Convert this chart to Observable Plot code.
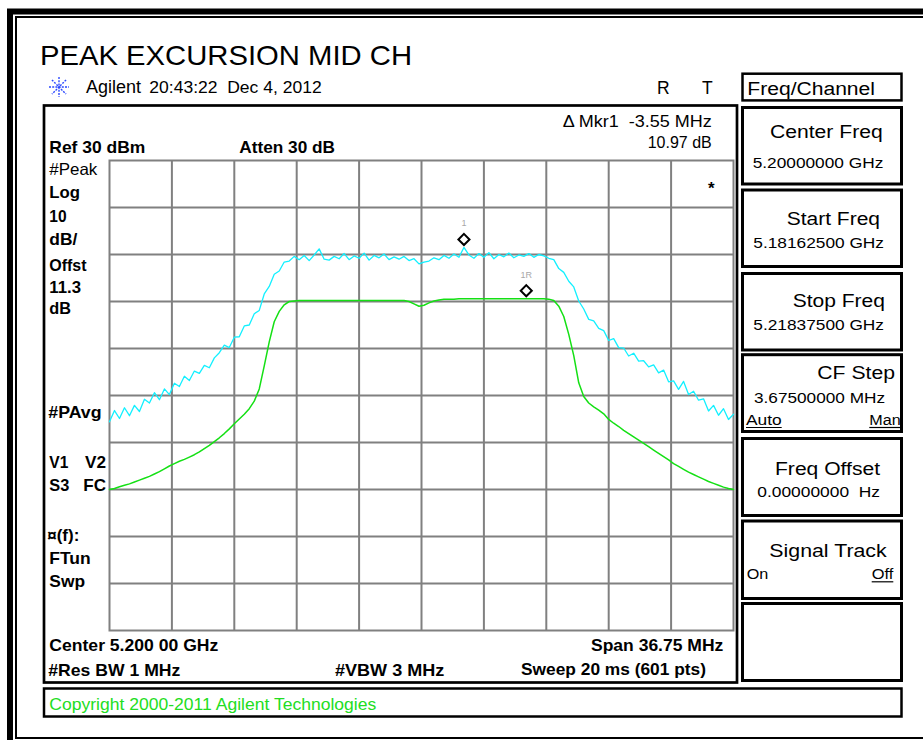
<!DOCTYPE html>
<html><head><meta charset="utf-8">
<script src="https://cdn.jsdelivr.net/npm/d3@7"></script>
<script src="https://cdn.jsdelivr.net/npm/@observablehq/plot@0.6"></script>
<style>
html,body{margin:0;padding:0;background:#fff;}
#wrap{position:relative;width:923px;height:740px;overflow:hidden;background:#fff;}
#wrap svg{position:absolute;left:0;top:0;}
</style></head><body><div id="wrap"></div>
<script>
// ---- instrument settings (frequency as offset in MHz from center 5.200 GHz) ----
const startMHz = -18.375, stopMHz = 18.375;
const refLevel = 30, dbPerDiv = 10, divisions = 10;
const xGrid = [-14.7, -11.025, -7.35, -3.675, 0, 3.675, 7.35, 11.025, 14.7];
const yGrid = [20, 10, 0, -10, -20, -30, -40, -50, -60];

// ---- trace 1: #Peak (cyan), dBm, evenly swept points ----
const peakTrace = [
-25.6,-23.2,-24.9,-22.6,-24.3,-22.1,-23.4,-20.8,-21.6,-19.4,
-20.9,-18.6,-19.8,-17.4,-18.1,-15.9,-16.8,-14.8,-15.3,-13.6,
-14.1,-12.0,-10.9,-9.3,-9.8,-7.6,-7.5,-5.2,-5.0,-2.6,
-1.9,1.6,3.2,5.8,6.5,8.4,8.6,9.6,8.9,9.8,
8.7,9.9,11.2,9.0,8.8,9.6,9.1,10.2,8.9,9.7,
9.2,10.3,8.8,9.8,9.3,10.1,8.9,9.5,9.0,9.6,
8.7,9.1,8.0,8.4,8.6,9.3,8.9,9.8,9.2,10.1,
9.4,11.5,9.9,9.2,10.2,9.4,10.4,9.1,10.0,9.5,
10.3,9.3,9.9,9.6,10.2,9.4,10.0,9.7,9.2,8.9,
7.0,6.2,4.3,3.1,0.1,-1.6,-3.8,-4.1,-5.7,-6.2,
-8.3,-7.9,-9.8,-9.9,-11.6,-11.0,-12.7,-12.6,-13.9,-13.5,
-15.2,-14.6,-17.1,-16.9,-18.7,-17.0,-19.8,-19.1,-21.0,-20.7,
-23.3,-22.1,-24.2,-22.8,-25.1,-24.0
];

// ---- trace 2: #PAvg (green), dBm ----
const avgTrace = [
-40.0,-39.8,-39.4,-39.1,-38.8,-38.4,-38.0,-37.6,-37.2,-36.7,
-36.2,-35.6,-35.0,-34.5,-34.0,-33.6,-33.1,-32.6,-32.0,-31.3,
-30.6,-29.8,-29.0,-28.1,-27.1,-26.0,-25.0,-24.0,-22.8,-21.2,
-18.6,-13.7,-8.6,-4.3,-2.1,-0.7,0.0,0.1,0.2,0.2,
0.2,0.2,0.2,0.2,0.2,0.2,0.2,0.2,0.2,0.2,
0.2,0.2,0.2,0.2,0.2,0.2,0.2,0.2,0.2,0.2,
0.0,-0.5,-1.0,-0.8,-0.3,0.1,0.3,0.5,0.5,0.5,
0.6,0.6,0.6,0.6,0.6,0.6,0.6,0.6,0.6,0.6,
0.6,0.6,0.6,0.6,0.6,0.6,0.6,0.6,0.5,0.2,
-1.0,-3.2,-7.0,-11.5,-17.3,-20.2,-21.6,-22.4,-23.1,-23.9,
-25.1,-25.9,-26.6,-27.4,-28.1,-28.8,-29.5,-30.2,-30.9,-31.6,
-32.3,-33.0,-33.7,-34.5,-35.1,-35.7,-36.3,-36.8,-37.3,-37.8,
-38.3,-38.7,-39.1,-39.5,-39.8,-40.0
];

// ---- markers ----
const markerLabels = ["1", "1R"];
const markerFreqs = [2.5, 6.17];
const markerLevels = [11.5, 0.6];

// ---- build tables ----
const toRows = t => t.map((v, i) => ({f: startMHz + i * (stopMHz - startMHz) / (t.length - 1), v}));
const markers = markerLabels.map((label, i) => ({label, f: markerFreqs[i], v: markerLevels[i]}));

const chart = Plot.plot({
  width: 923, height: 740,
  marginLeft: 109, marginRight: 190, marginTop: 160, marginBottom: 110,
  x: {domain: [startMHz, stopMHz], axis: null},
  y: {domain: [refLevel - dbPerDiv * divisions, refLevel], axis: null},
  style: {background: "white", fontFamily: "'Liberation Sans', Arial, sans-serif"},
  marks: [
    Plot.ruleX(xGrid, {stroke: "#808080", strokeWidth: 2, strokeOpacity: 1}),
    Plot.ruleY(yGrid, {stroke: "#808080", strokeWidth: 2, strokeOpacity: 1}),
    Plot.frame({stroke: "#808080", strokeWidth: 2}),
    Plot.line(toRows(avgTrace), {x: "f", y: "v", stroke: "#14e014", strokeWidth: 1.5}),
    Plot.line(toRows(peakTrace), {x: "f", y: "v", stroke: "#12f0ff", strokeWidth: 1.3}),
    Plot.dot(markers, {x: "f", y: "v", dy: -8, r: 5, symbol: d3.symbolDiamond2 || "diamond",
      stroke: "#000", strokeWidth: 2, fill: "none"}),
    Plot.text(markers, {x: "f", y: "v", text: "label", dy: -24, fill: "#a8a8a8", fontSize: 9})
  ]
});
const wrap = document.getElementById("wrap");
wrap.appendChild(chart);

// ---- instrument screen decoration (boxes and annotation texts) ----
const F = "'Liberation Sans', Arial, sans-serif";
const ov = d3.create("svg").attr("width", 923).attr("height", 740)
  .attr("font-family", F).style("pointer-events", "none");

function box(x, y, w, h, sw) {
  ov.append("rect").attr("x", x).attr("y", y).attr("width", w).attr("height", h)
    .attr("fill", "none").attr("stroke", "#000").attr("stroke-width", sw);
}
// outer frame
box(10, 11.5, 1000, 1000, 6);
box(16, 17, 1000, 721, 2);
// main panel and copyright box
box(44, 105.5, 693, 577, 2.7);
box(44, 688.5, 857.5, 28, 2.5);
// soft keys
box(742.5, 73.7, 159, 26.7, 2.5);
[[107.5,184],[190,266.5],[273.5,350],[354.7,431.5],[438.5,515.5],[521,598.5],[603.5,680.5]]
  .forEach(([a,b]) => box(742.5, a, 159, b - a, 3));

// Agilent logo star
const star = ov.append("g").attr("transform", "translate(59,87)")
  .attr("stroke", "#2a48ff").attr("stroke-width", 1.4).attr("stroke-dasharray", "2,1.2");
[0, 45, 90, 135].forEach(a => star.append("line").attr("x1", -10).attr("x2", 10)
  .attr("transform", `rotate(${a})`));

const texts = [
  ["PEAK EXCURSION MID CH", 40, 65, 28, 400, 372],
  ["Agilent", 86, 93.3, 17.5, 400, 55],
  ["20:43:22  Dec 4, 2012", 149.3, 93.3, 17, 400, 172.4],
  ["R", 657, 94.3, 17.5, 400, null],
  ["T", 702, 94.3, 17.5, 400, null],
  ["Freq/Channel", 747.3, 95, 18, 400, 127.7],
  ["\u0394 Mkr1  -3.55 MHz", 562.7, 126.7, 16, 400, 149],
  ["10.97 dB", 647.7, 148.3, 16, 400, 64],
  ["Ref 30 dBm", 49.3, 153, 17, 700, 96],
  ["Atten 30 dB", 239.3, 153, 17, 700, 95.7],
  ["#Peak", 49.3, 175, 16.5, 400, 48],
  ["Log", 49.3, 197.5, 17, 700, 30.7],
  ["10", 49.3, 221.7, 17, 700, 17.3],
  ["dB/", 49.3, 245, 17, 700, 28],
  ["Offst", 49.3, 270.7, 17, 700, 37.3],
  ["11.3", 49.3, 292.7, 17, 700, 31.7],
  ["dB", 49.3, 314, 17, 700, 21.7],
  ["#PAvg", 48.3, 417.5, 17, 700, 53.3],
  ["V1", 49.3, 467.7, 17, 700, 19],
  ["V2", 85, 467.7, 17, 700, 21],
  ["S3", 49.3, 490.7, 17, 700, 20],
  ["FC", 83.3, 490.7, 17, 700, 22.7],
  ["\u00a4(f):", 47.3, 541, 17, 700, 32],
  ["FTun", 49.3, 564.3, 17, 700, 41.4],
  ["Swp", 49.3, 586.7, 17, 700, 35.7],
  ["Center 5.200 00 GHz", 49.3, 650.7, 17, 700, 169],
  ["#Res BW 1 MHz", 48.3, 675.7, 17, 700, 132],
  ["#VBW 3 MHz", 335, 675.7, 17, 700, 109.3],
  ["Span 36.75 MHz", 591, 651, 17, 700, 132.3],
  ["Sweep 20 ms (601 pts)", 521, 675, 17, 700, 185],
  ["*", 708, 194, 17, 700, null],
  ["Center Freq", 770, 138.3, 17.5, 400, 112.7],
  ["5.20000000 GHz", 752.7, 167.7, 15.5, 400, 130.6],
  ["Start Freq", 786.7, 225, 17.5, 400, 93.3],
  ["5.18162500 GHz", 753.3, 247.7, 15.5, 400, 130.7],
  ["Stop Freq", 792.7, 306.7, 17.5, 400, 92.3],
  ["5.21837500 GHz", 753.3, 330, 15.5, 400, 130.7],
  ["CF Step", 817.3, 379, 17.5, 400, 77.7],
  ["3.67500000 MHz", 754, 402.7, 15.5, 400, 131],
  ["Auto", 746, 425, 15.5, 400, 35.7, true],
  ["Man", 869.3, 425, 15.5, 400, 31.4, true],
  ["Freq Offset", 775, 474.5, 17.5, 400, 105],
  ["0.00000000  Hz", 757.3, 496.7, 15.5, 400, 122.7],
  ["Signal Track", 769.3, 557.3, 17.5, 400, 117.4],
  ["On", 746.7, 579.3, 15.5, 400, 21.6],
  ["Off", 871.7, 579.3, 15.5, 400, 21.6, true]
];
texts.forEach(([s, x, y, size, w, len, ul]) => {
  const t = ov.append("text").attr("x", x).attr("y", y).attr("font-size", size)
    .attr("font-weight", w).attr("fill", "#000").style("white-space", "pre").text(s);
  if (len) t.attr("textLength", len).attr("lengthAdjust", "spacingAndGlyphs");
  if (ul) ov.append("line").attr("x1", x).attr("x2", x + len).attr("y1", y + 2.5).attr("y2", y + 2.5)
    .attr("stroke", "#000").attr("stroke-width", 1.2);
});
ov.append("text").attr("x", 49.3).attr("y", 710).attr("font-size", 16.5).attr("fill", "#22dd22")
  .attr("textLength", 327).attr("lengthAdjust", "spacingAndGlyphs")
  .text("Copyright 2000-2011 Agilent Technologies");

wrap.appendChild(ov.node());
</script></body></html>
